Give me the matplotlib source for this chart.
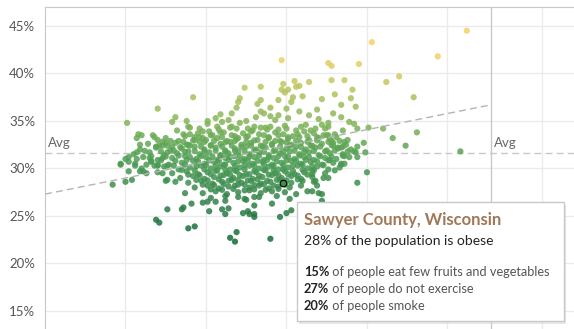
import numpy as np
import matplotlib
matplotlib.use("Agg")
import matplotlib.pyplot as plt
from matplotlib.colors import LinearSegmentedColormap
from matplotlib.patches import Rectangle

plt.rcParams['font.family'] = ['Lato', 'DejaVu Sans']

# points: (x share, % obese)
# x axis has no labels in the crop, gridlines are every 5 units
outliers = [
    (24.7, 41.4), (15.1, 34.8), (17.0, 36.3), (19.2, 37.5), (22.4, 38.5), (23.4, 38.6),
    (25.5, 39.2), (24.7, 38.3), (23.4, 37.2), (22.1, 37.4), (24.5, 37.2), (36.2, 44.5),
    (30.3, 43.3), (34.4, 41.8), (27.6, 41.1), (27.8, 40.8), (29.5, 41.0), (31.2, 39.1),
    (32.0, 39.7), (32.9, 37.5), (28.6, 39.3), (27.8, 39.3), (26.4, 39.1), (29.1, 38.3),
    (28.0, 37.8), (27.2, 37.3), (29.0, 37.4), (29.3, 36.5), (28.4, 36.7), (30.1, 34.3),
    (31.0, 34.2), (33.1, 33.8), (31.6, 33.2), (32.4, 32.4), (35.8, 31.8), (29.8, 32.7),
    (29.9, 31.7), (29.4, 31.2), (28.4, 30.5), (29.4, 34.2), (29.2, 34.7), (28.9, 34.9),
    (28.4, 32.2), (28.2, 32.2), (27.8, 32.9), (27.6, 33.5), (27.6, 34.4), (27.6, 34.8),
    (27.2, 34.6),
]
low_side = [
    (14.2, 28.3), (15.0, 28.6), (15.4, 28.8), (14.7, 30.4), (17.6, 25.7), (18.5, 25.7),
    (18.6, 25.9), (16.9, 24.6), (17.1, 24.3), (18.9, 23.7), (19.3, 23.9), (21.5, 22.7),
    (21.8, 22.3), (21.9, 23.3), (24.0, 22.6), (20.2, 25.5), (21.0, 25.7), (21.2, 25.2),
    (21.4, 25.8), (22.3, 25.3), (22.6, 25.5), (22.7, 25.2), (23.0, 24.9), (23.0, 25.2),
    (24.6, 24.9), (25.0, 25.3), (25.3, 25.6), (24.1, 26.3), (23.0, 26.1), (19.8, 26.4),
    (20.1, 26.5), (20.6, 26.5), (19.1, 26.3), (18.7, 27.4), (21.2, 26.6), (22.0, 27.0),
    (22.5, 26.7), (23.0, 27.0), (17.5, 28.7), (18.1, 28.6),
    (30.0, 29.6), (29.4, 28.5), (28.4, 30.4), (27.2, 27.3), (27.0, 27.4), (26.3, 27.6),
    (26.6, 27.6), (27.2, 26.6), (26.8, 28.7), (26.6, 29.4),
]
left_side = [
    (15.8, 33.6), (16.0, 33.5), (15.7, 33.2), (16.7, 33.5), (16.8, 33.3), (17.0, 33.0),
    (17.3, 32.8), (17.5, 32.7), (17.1, 32.4), (15.9, 32.5), (15.7, 31.7), (15.2, 31.2),
    (15.2, 30.7), (15.7, 31.0), (14.7, 30.5), (15.2, 29.7), (15.6, 30.3), (15.9, 29.7),
    (16.1, 29.7), (16.5, 31.1), (16.6, 30.8), (16.3, 30.4), (16.8, 30.3), (17.0, 30.3),
    (17.3, 31.1), (17.0, 29.6), (17.3, 29.5), (16.3, 29.5), (17.6, 28.8), (17.6, 30.3),
    (17.6, 31.7),
]
upper_band = [
    (22.0, 37.0), (23.2, 36.8), (21.9, 36.4), (21.6, 35.8), (20.9, 35.7), (20.6, 35.3),
    (20.1, 35.0), (20.1, 34.7), (18.8, 35.0), (18.9, 34.4), (18.1, 35.4), (17.9, 34.9),
    (18.6, 33.6), (23.6, 35.8), (24.0, 36.4), (23.1, 35.4), (22.5, 35.0), (22.1, 34.8),
    (21.4, 35.1), (21.6, 34.4), (21.9, 34.2), (20.7, 34.4), (20.9, 33.8), (20.2, 33.9),
    (19.5, 33.7), (19.8, 33.2), (19.3, 33.0), (18.8, 32.5), (17.9, 32.3), (24.0, 34.4),
    (24.3, 35.1), (24.5, 35.6), (25.0, 36.3), (25.1, 35.3), (23.4, 34.3), (23.0, 34.4),
    (23.8, 34.1), (24.5, 34.1), (24.9, 34.5), (25.6, 34.0), (26.2, 34.6), (26.8, 34.2),
    (27.0, 35.2), (26.4, 35.6), (25.8, 36.0), (26.9, 36.2), (23.4, 36.0), (24.0, 35.5),
    (21.0, 34.9), (22.6, 34.2), (19.0, 34.3), (18.2, 34.0), (27.9, 35.8), (28.4, 35.4),
    (25.3, 37.0), (26.0, 37.6), (25.8, 38.7), (25.1, 38.3), (24.8, 38.9), (24.9, 38.0),
    (25.4, 37.5), (25.6, 38.6), (27.6, 29.0), (28.0, 29.8), (26.9, 28.2), (27.7, 30.9),
    (28.6, 31.3), (29.2, 31.8), (27.9, 32.4), (28.8, 33.0), (28.0, 33.6), (28.5, 34.0),
    (19.6, 34.2), (20.8, 34.1), (21.5, 34.3), (22.9, 34.0), (23.7, 34.3), (25.0, 34.2),
    (25.9, 34.4), (26.5, 34.0), (27.4, 34.2),
]
core = [
    (19.0, 33.6), (19.8, 33.9), (20.4, 33.5), (21.1, 33.8), (21.8, 33.4), (22.3, 33.7),
    (22.8, 33.9), (23.6, 33.5), (24.3, 33.8), (24.8, 33.6), (25.4, 33.4), (26.1, 33.9),
    (26.7, 33.7), (27.3, 33.5),
    (18.7, 33.4), (19.6, 33.3), (20.3, 33.5), (21.0, 33.3), (21.6, 33.5), (22.0, 33.2),
    (22.6, 33.4), (23.3, 33.6), (23.9, 33.3), (24.5, 33.5), (25.1, 33.3), (25.7, 33.6),
    (26.3, 33.4), (26.9, 33.3), (27.5, 33.5), (28.1, 33.3),
    (17.5, 33.2), (18.3, 32.9), (19.3, 33.3), (20.0, 33.0), (20.7, 33.2), (21.3, 32.9),
    (21.9, 33.1), (22.5, 33.3), (23.2, 33.0), (23.9, 33.2), (24.6, 32.9), (25.1, 33.1),
    (25.8, 33.3), (26.4, 33.0), (27.0, 33.2), (27.7, 33.1), (28.6, 32.8),
    (17.8, 32.9), (18.6, 32.8), (19.2, 32.95), (19.9, 32.8), (20.5, 32.9), (21.2, 32.75),
    (21.8, 32.9), (22.5, 32.8), (23.0, 32.95), (23.7, 32.8), (24.3, 32.9), (25.0, 32.75),
    (25.6, 32.9), (26.3, 32.8), (26.9, 32.95), (27.6, 32.8), (28.3, 32.9),
    (16.4, 32.6), (17.3, 32.4), (18.1, 32.7), (18.9, 32.5), (19.6, 32.8), (20.3, 32.4),
    (20.9, 32.6), (21.5, 32.8), (22.2, 32.5), (22.8, 32.7), (23.4, 32.4), (24.1, 32.6),
    (24.7, 32.8), (25.3, 32.5), (25.9, 32.7), (26.6, 32.4), (27.2, 32.6), (27.9, 32.7),
    (28.7, 32.5), (29.4, 32.3),
    (16.9, 32.3), (17.6, 32.4), (18.4, 32.25), (19.0, 32.4), (19.7, 32.3), (20.3, 32.45),
    (21.0, 32.3), (21.6, 32.4), (22.2, 32.25), (22.8, 32.4), (23.5, 32.3), (24.1, 32.45),
    (24.6, 32.3), (25.2, 32.4), (25.9, 32.25), (26.5, 32.4), (27.1, 32.3), (27.8, 32.45),
    (28.5, 32.3),
    (15.9, 32.0), (16.9, 32.2), (17.8, 31.9), (18.5, 32.1), (19.3, 32.3), (19.9, 32.0),
    (20.6, 32.2), (21.2, 31.9), (21.8, 32.1), (22.5, 32.3), (23.1, 32.0), (23.7, 32.2),
    (24.3, 31.9), (25.0, 32.1), (25.6, 32.3), (26.2, 32.0), (26.8, 32.2), (27.5, 31.9),
    (28.2, 32.1), (29.0, 32.0),
    (16.2, 31.85), (17.2, 31.8), (18.0, 31.9), (18.7, 31.75), (19.3, 31.85), (19.9, 31.8),
    (20.6, 31.9), (21.2, 31.75), (21.8, 31.85), (22.4, 31.8), (23.0, 31.9), (23.6, 31.75),
    (24.2, 31.85), (24.8, 31.8), (25.5, 31.9), (26.1, 31.75), (26.7, 31.85), (27.4, 31.8),
    (28.0, 31.9), (28.8, 31.8),
    (15.5, 31.5), (16.5, 31.7), (17.4, 31.4), (18.2, 31.6), (18.9, 31.8), (19.6, 31.5),
    (20.2, 31.7), (20.9, 31.4), (21.4, 31.6), (22.0, 31.8), (22.7, 31.5), (23.3, 31.7),
    (23.9, 31.4), (24.6, 31.6), (25.2, 31.8), (25.8, 31.5), (26.4, 31.7), (27.0, 31.4),
    (27.7, 31.6), (28.5, 31.5), (29.3, 31.7),
    (16.6, 31.3), (17.5, 31.25), (18.3, 31.35), (19.0, 31.2), (19.7, 31.3), (20.4, 31.25),
    (20.9, 31.35), (21.5, 31.2), (22.1, 31.3), (22.7, 31.25), (23.3, 31.35), (23.9, 31.2),
    (24.5, 31.3), (25.1, 31.25), (25.8, 31.35), (26.4, 31.2), (27.1, 31.3), (27.8, 31.25),
    (28.5, 31.35),
    (15.0, 31.0), (16.1, 31.2), (17.0, 30.9), (17.9, 31.1), (18.7, 31.3), (19.4, 31.0),
    (20.0, 31.2), (20.7, 30.9), (21.2, 31.1), (21.8, 31.3), (22.4, 31.0), (23.0, 31.2),
    (23.6, 30.9), (24.2, 31.1), (24.9, 31.3), (25.5, 31.0), (26.1, 31.2), (26.7, 30.9),
    (27.4, 31.1), (28.1, 31.0), (28.9, 31.2),
    (17.2, 30.85), (18.1, 30.8), (18.8, 30.9), (19.5, 30.75), (20.2, 30.85), (20.8, 30.8),
    (21.4, 30.9), (22.0, 30.75), (22.6, 30.85), (23.2, 30.8), (23.8, 30.9), (24.4, 30.75),
    (25.0, 30.85), (25.6, 30.8), (26.2, 30.9), (26.9, 30.75), (27.6, 30.85),
    (15.6, 30.5), (16.6, 30.7), (17.7, 30.4), (18.5, 30.6), (19.2, 30.8), (19.9, 30.5),
    (20.5, 30.7), (21.1, 30.4), (21.7, 30.6), (22.3, 30.8), (22.9, 30.5), (23.5, 30.7),
    (24.1, 30.4), (24.7, 30.6), (25.3, 30.8), (25.9, 30.5), (26.5, 30.7), (27.2, 30.4),
    (27.9, 30.6), (28.6, 30.5),
    (17.0, 30.35), (18.0, 30.3), (18.7, 30.4), (19.4, 30.25), (20.0, 30.35), (20.6, 30.3),
    (21.2, 30.4), (21.8, 30.25), (22.4, 30.35), (23.0, 30.3), (23.6, 30.4), (24.2, 30.25),
    (24.8, 30.35), (25.4, 30.3), (26.0, 30.4), (26.6, 30.25), (27.3, 30.35),
    (16.0, 30.0), (17.4, 30.2), (18.3, 29.9), (19.0, 30.1), (19.7, 30.3), (20.3, 30.0),
    (20.9, 30.2), (21.5, 29.9), (22.1, 30.1), (22.7, 30.3), (23.3, 30.0), (23.9, 30.2),
    (24.5, 29.9), (25.1, 30.1), (25.7, 30.3), (26.3, 30.0), (26.9, 30.2), (27.6, 29.9),
    (28.3, 30.1),
    (18.5, 29.85), (19.3, 29.8), (19.9, 29.9), (20.6, 29.75), (21.2, 29.85), (21.8, 29.8),
    (22.4, 29.9), (23.0, 29.75), (23.6, 29.85), (24.2, 29.8), (24.8, 29.9), (25.4, 29.75),
    (26.0, 29.85), (26.6, 29.8),
    (17.9, 29.5), (18.8, 29.7), (19.5, 29.4), (20.1, 29.6), (20.7, 29.8), (21.3, 29.5),
    (21.9, 29.7), (22.5, 29.4), (23.1, 29.6), (23.7, 29.8), (24.3, 29.5), (24.9, 29.7),
    (25.5, 29.4), (26.1, 29.6), (26.7, 29.8), (27.4, 29.5),
    (18.9, 29.35), (19.6, 29.3), (20.3, 29.4), (20.9, 29.25), (21.5, 29.35), (22.1, 29.3),
    (22.7, 29.4), (23.3, 29.25), (23.9, 29.35), (24.5, 29.3), (25.1, 29.4), (25.7, 29.25),
    (26.3, 29.35),
    (18.4, 29.0), (19.2, 29.2), (19.9, 28.9), (20.5, 29.1), (21.1, 29.3), (21.7, 29.0),
    (22.3, 29.2), (22.9, 28.9), (23.5, 29.1), (24.1, 29.3), (24.7, 29.0), (25.3, 29.2),
    (25.9, 28.9), (26.6, 29.1), (27.3, 29.0),
    (19.4, 28.8), (20.1, 28.75), (20.8, 28.85), (21.4, 28.7), (22.0, 28.8), (22.6, 28.75),
    (23.2, 28.85), (23.8, 28.7), (24.4, 28.8), (25.0, 28.75), (25.7, 28.85),
    (18.9, 28.5), (19.7, 28.7), (20.4, 28.4), (21.0, 28.6), (21.6, 28.8), (22.2, 28.5),
    (22.8, 28.7), (23.4, 28.4), (24.0, 28.6), (24.6, 28.8), (25.3, 28.5), (26.0, 28.7),
    (26.7, 28.6),
    (19.8, 28.3), (20.5, 28.25), (21.1, 28.35), (21.8, 28.2), (22.4, 28.3), (23.0, 28.25),
    (23.6, 28.35), (24.2, 28.2), (24.9, 28.3),
    (19.3, 28.0), (20.1, 28.2), (20.8, 27.9), (21.4, 28.1), (22.0, 28.3), (22.7, 28.0),
    (23.3, 28.2), (23.9, 27.9), (24.5, 28.1), (25.2, 28.0), (25.9, 28.2),
    (20.3, 27.8), (21.0, 27.75), (21.7, 27.85), (22.4, 27.7), (23.0, 27.8), (23.7, 27.75),
    (24.5, 27.85),
    (19.8, 27.4), (20.6, 27.6), (21.3, 27.3), (22.0, 27.5), (22.7, 27.7), (23.4, 27.4),
    (24.1, 27.6), (24.9, 27.5), (25.6, 27.3),
    (20.3, 26.9), (21.2, 27.1), (22.4, 26.8), (23.3, 27.0), (24.4, 27.1), (25.2, 26.8),
]

counties = outliers + low_side + left_side + upper_band + core
x_vals = np.array([p[0] for p in counties])
obese = np.array([p[1] for p in counties])

selected = (24.8, 28.5)          # Sawyer County, Wisconsin
avg_obese = 31.6
trend_x = [10.0, 37.7]
trend_y = [27.3, 36.7]
pane_edge = 37.7

y_ticks = [15, 20, 25, 30, 35, 40, 45]
x_grid = [15, 20, 25, 30, 35, 40.9]

tooltip_title = "Sawyer County, Wisconsin"
tooltip_sub = "28% of the population is obese"
tooltip_rows = [("15%", " of people eat few fruits and vegetables"),
                ("27%", " of people do not exercise"),
                ("20%", " of people smoke")]

green_gold = ["#146c36", "#257740", "#33834a", "#3f8f4f", "#4b9c53", "#60a656",
              "#7cb257", "#98bb59", "#b6c35c", "#d5ca60", "#f4d166"]
cmap = LinearSegmentedColormap.from_list("green_gold", green_gold)

fig = plt.figure(figsize=(5.74, 3.29), dpi=100)
ax = fig.add_axes([45 / 574, 0, 529 / 574, 322 / 329])

ax.set_xlim(10, 42.86)
ax.set_ylim(13.1, 47.0)

for gx in x_grid:
    ax.axvline(gx, color="#ebebeb", lw=1, zorder=0)
for gy in y_ticks:
    ax.axhline(gy, color="#ebebeb", lw=1, zorder=0)
ax.axvline(pane_edge, color="#c8c8c8", lw=1, zorder=1)

ax.axhline(avg_obese, color="#c8c8c8", lw=1, ls=(0, (5, 3)), zorder=1)
ax.plot(trend_x, trend_y, color="#b4b4b4", lw=1, ls=(0, (5, 3)), zorder=3)

ax.scatter(x_vals, obese, c=obese, cmap=cmap, vmin=23, vmax=42, s=20,
           alpha=0.85, linewidths=0, zorder=2)
ax.scatter([selected[0]], [selected[1]], s=22, facecolor="#3f8f4f",
           edgecolor="black", linewidths=0.8, zorder=4)

ax.text(10.2, avg_obese + 0.45, "Avg", color="#666666", fontsize=9.5, va="bottom")
ax.text(pane_edge + 0.2, avg_obese + 0.45, "Avg", color="#666666", fontsize=9.5, va="bottom")

ax.set_yticks(y_ticks)
ax.set_yticklabels([f"{t}%" for t in y_ticks], color="#555555", fontsize=9.5)
ax.set_xticks([])
ax.tick_params(axis="y", length=0, pad=7)
for side in ["right", "bottom"]:
    ax.spines[side].set_visible(False)
ax.spines["left"].set_color("#c8c8c8")
ax.spines["top"].set_color("#c8c8c8")

# tooltip box
W, H = 574, 329
fig.patches.append(Rectangle((299 / W, 1 - 324 / H), 267 / W, 119 / H, transform=fig.transFigure,
                             facecolor="#d9d9d9", edgecolor="none", alpha=0.6, zorder=5))
fig.patches.append(Rectangle((297 / W, 1 - 321 / H), 267 / W, 119 / H, transform=fig.transFigure,
                             facecolor="white", edgecolor="#c8c8c8", lw=1, zorder=6))

left = 304 / W
fig.text(left, 1 - 220 / H, tooltip_title, color="#a07858", fontsize=12,
         fontweight="bold", va="center", zorder=7)
fig.text(left, 1 - 241 / H, tooltip_sub, color="#222222", fontsize=10,
         va="center", zorder=7)

fig.canvas.draw()
renderer = fig.canvas.get_renderer()
for (pct, rest), yy in zip(tooltip_rows, [272, 289, 306]):
    t = fig.text(left, 1 - yy / H, pct, color="#222222", fontsize=9.2,
                 fontweight="bold", va="center", zorder=7)
    bb = t.get_window_extent(renderer)
    fig.text(bb.x1 / W, 1 - yy / H, rest, color="#555555", fontsize=9.2,
             va="center", zorder=7)

fig.savefig("out.png", dpi=100)
